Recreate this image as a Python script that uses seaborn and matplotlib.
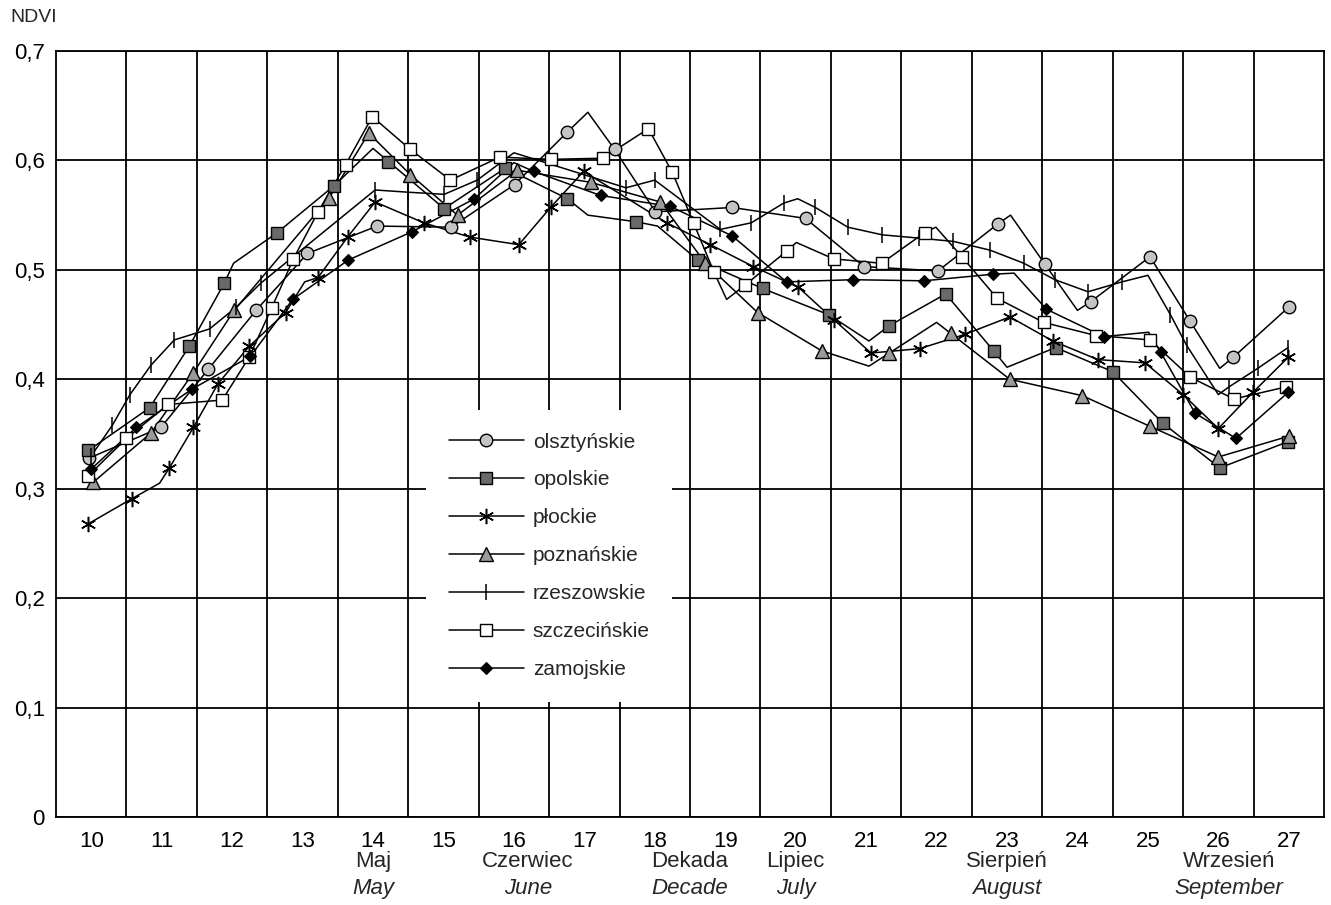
import numpy as np
import pandas as pd
import matplotlib
matplotlib.use("Agg")
import matplotlib.pyplot as plt
import seaborn as sns
from matplotlib.lines import Line2D

# decade number (10 = first decade of April ... 27 = last of September) and NDVI
# *_x / *_v : points drawn with a marker, *_bx / *_bv : extra bends of the line
olsz_x = [9.97, 10.99, 11.66, 12.34, 13.07, 14.06, 15.11, 16.01, 16.76, 17.43, 18.01,
          19.10, 20.14, 20.97, 22.02, 22.87, 23.54, 24.19, 25.03, 25.60, 26.21, 27.0]
olsz_v = [0.328, 0.356, 0.409, 0.463, 0.515, 0.540, 0.539, 0.578, 0.626, 0.610, 0.553,
          0.557, 0.547, 0.503, 0.499, 0.542, 0.505, 0.471, 0.512, 0.453, 0.420, 0.466]
olsz_bx = [17.05, 23.05, 24.0, 26.02]
olsz_bv = [0.644, 0.550, 0.463, 0.410]

opol_x = [9.96, 10.83, 11.39, 11.89, 12.64, 13.45, 14.22, 15.01, 15.88, 16.76, 17.73,
          18.61, 19.53, 20.47, 21.33, 22.13, 22.81, 23.69, 24.50, 25.21, 26.02, 26.99]
opol_v = [0.335, 0.374, 0.430, 0.488, 0.534, 0.577, 0.599, 0.556, 0.593, 0.565, 0.544,
          0.509, 0.483, 0.459, 0.449, 0.478, 0.426, 0.429, 0.407, 0.360, 0.319, 0.343]
opol_bx = [12.02, 14.0, 17.05, 18.04, 21.04, 23.0]
opol_bv = [0.506, 0.611, 0.550, 0.540, 0.435, 0.411]

plock_x = [9.96, 10.58, 11.11, 11.45, 11.80, 12.24, 12.76, 13.22, 13.64, 14.03, 14.72,
           15.37, 16.07, 16.52, 16.99, 18.17, 18.79, 19.40, 20.04, 20.55, 21.07, 21.76,
           22.40, 23.04, 23.65, 24.29, 24.96, 25.50, 26.0, 26.49, 26.99]
plock_v = [0.268, 0.291, 0.319, 0.356, 0.396, 0.430, 0.461, 0.493, 0.530, 0.562, 0.543,
           0.530, 0.523, 0.557, 0.590, 0.543, 0.523, 0.503, 0.484, 0.454, 0.424, 0.428,
           0.441, 0.457, 0.435, 0.418, 0.415, 0.386, 0.355, 0.388, 0.420]
plock_bx = [10.97, 13.03]
plock_bv = [0.305, 0.489]

pozn_x = [10.03, 10.85, 11.45, 12.03, 13.38, 13.94, 14.53, 15.20, 16.05, 17.09, 18.08,
          18.72, 19.46, 20.37, 21.33, 22.20, 23.04, 24.07, 25.03, 26.0, 27.0]
pozn_v = [0.306, 0.351, 0.406, 0.463, 0.566, 0.625, 0.587, 0.550, 0.591, 0.580, 0.562,
          0.506, 0.461, 0.426, 0.424, 0.442, 0.400, 0.385, 0.357, 0.329, 0.348]
pozn_bx = [21.04, 22.0]
pozn_bv = [0.412, 0.452]

rzesz_x = [10.0, 10.30, 10.55, 10.85, 11.18, 11.68, 12.06, 12.41, 14.03, 14.49, 15.01,
           15.48, 17.59, 18.0, 18.93, 19.37, 19.83, 20.28, 20.74, 21.23, 21.75, 22.24,
           22.76, 23.24, 23.68, 24.15, 24.63, 25.32, 25.55, 26.15, 26.56, 26.99]
rzesz_v = [0.330, 0.358, 0.386, 0.413, 0.436, 0.446, 0.466, 0.488, 0.573, 0.571, 0.569,
           0.582, 0.575, 0.582, 0.537, 0.543, 0.561, 0.557, 0.539, 0.532, 0.529, 0.526,
           0.518, 0.506, 0.491, 0.480, 0.489, 0.459, 0.431, 0.393, 0.410, 0.429]
rzesz_bx = [16.0, 20.03, 25.0, 26.0]
rzesz_bv = [0.607, 0.565, 0.495, 0.386]

szcz_x = [9.96, 10.50, 11.09, 11.86, 12.24, 12.56, 12.87, 13.22, 13.61, 13.99, 14.53,
          15.10, 15.80, 16.53, 17.26, 17.91, 18.25, 18.55, 18.84, 19.28, 19.87, 20.54,
          21.22, 21.83, 22.36, 22.86, 23.52, 24.26, 25.03, 25.60, 26.22, 26.96]
szcz_v = [0.312, 0.346, 0.377, 0.381, 0.420, 0.465, 0.510, 0.553, 0.596, 0.640, 0.610,
          0.582, 0.603, 0.601, 0.602, 0.629, 0.589, 0.543, 0.498, 0.486, 0.517, 0.510,
          0.506, 0.534, 0.512, 0.474, 0.452, 0.440, 0.436, 0.402, 0.382, 0.393]
szcz_bx = [19.02, 20.01, 21.99]
szcz_bv = [0.473, 0.525, 0.539]

zam_x = [10.0, 10.64, 11.43, 12.26, 12.86, 13.65, 14.56, 15.44, 16.28, 17.23, 18.22,
         19.10, 19.87, 20.81, 21.82, 22.80, 23.56, 24.37, 25.18, 25.67, 26.25, 26.99]
zam_v = [0.318, 0.356, 0.391, 0.421, 0.473, 0.509, 0.535, 0.565, 0.590, 0.568, 0.558,
         0.531, 0.489, 0.491, 0.490, 0.496, 0.464, 0.439, 0.425, 0.369, 0.346, 0.388]
zam_bx = [16.0, 23.1, 25.01]
zam_bv = [0.598, 0.497, 0.443]

decades = list(range(10, 28))
months_pl = ["Maj", "Czerwiec", "Dekada", "Lipiec", "Sierpień", "Wrzesień"]
months_en = ["May", "June", "Decade", "July", "August", "September"]
month_pos = [14, 16.2, 18.5, 20, 23, 26.15]

series = [
    ("olsztyńskie", olsz_x, olsz_v, olsz_bx, olsz_bv),
    ("opolskie", opol_x, opol_v, opol_bx, opol_bv),
    ("płockie", plock_x, plock_v, plock_bx, plock_bv),
    ("poznańskie", pozn_x, pozn_v, pozn_bx, pozn_bv),
    ("rzeszowskie", rzesz_x, rzesz_v, rzesz_bx, rzesz_bv),
    ("szczecińskie", szcz_x, szcz_v, szcz_bx, szcz_bv),
    ("zamojskie", zam_x, zam_v, zam_bx, zam_bv),
]

styles = {
    "olsztyńskie": dict(marker="o", markersize=9, markerfacecolor="#c4c4c4",
                        markeredgecolor="black", markeredgewidth=1.0),
    "opolskie": dict(marker="s", markersize=8.5, markerfacecolor="#6a6a6a",
                     markeredgecolor="black", markeredgewidth=1.0),
    "płockie": dict(marker=(6, 2, 0), markersize=11, markeredgecolor="black",
                    markeredgewidth=1.1),
    "poznańskie": dict(marker="^", markersize=10, markerfacecolor="#9a9a9a",
                       markeredgecolor="black", markeredgewidth=1.0),
    "rzeszowskie": dict(marker="|", markersize=11, markeredgecolor="black",
                        markeredgewidth=1.1),
    "szczecińskie": dict(marker="s", markersize=9, markerfacecolor="white",
                         markeredgecolor="black", markeredgewidth=1.0),
    "zamojskie": dict(marker="D", markersize=6, markerfacecolor="black",
                      markeredgecolor="black", markeredgewidth=0.8),
}

sns.set_style("white")
plt.rcParams["font.family"] = ["Liberation Sans", "DejaVu Sans"]

W, H = 1331, 905
fig = plt.figure(figsize=(W / 100, H / 100), dpi=100)
ax = fig.add_axes([56 / W, 1 - 817 / H, (1324 - 56) / W, (817 - 51) / H])

for name, xs, vs, bx, bv in series:
    line = pd.DataFrame({"x": xs + bx, "v": vs + bv}).sort_values("x")
    sns.lineplot(data=line, x="x", y="v", ax=ax, color="black", linewidth=1.1,
                 estimator=None, sort=True, zorder=3)
    ax.plot(xs, vs, linestyle="none", zorder=4, **styles[name])

ax.set_xlim(9.5, 27.5)
ax.set_ylim(0, 0.7)
ax.set_xticks(decades)
ax.set_xticklabels([str(d) for d in decades])
ax.set_xticks(np.arange(10.5, 27, 1), minor=True)
ax.set_yticks(np.arange(0, 0.71, 0.1))
ax.set_yticklabels(["0"] + [f"0,{i}" for i in range(1, 8)])
ax.tick_params(axis="both", which="both", length=0, labelsize=16, colors="black")
ax.tick_params(axis="x", pad=10)
ax.tick_params(axis="y", pad=8)
ax.grid(which="minor", axis="x", color="black", linewidth=1.3)
ax.grid(which="major", axis="y", color="black", linewidth=1.3)
ax.grid(which="major", axis="x", visible=False)
ax.set_axisbelow(True)
for sp in ax.spines.values():
    sp.set_color("black")
    sp.set_linewidth(1.3)
ax.set_xlabel("")
ax.set_ylabel("")

trans = ax.get_xaxis_transform()
for pos, pl, en in zip(month_pos, months_pl, months_en):
    ax.text(pos, -0.0587, pl, transform=trans, ha="center", va="center", fontsize=16)
    ax.text(pos, -0.0927, en, transform=trans, ha="center", va="center", fontsize=16,
            style="italic")

fig.text(10 / W, 1 - 18 / H, "NDVI", ha="left", va="center", fontsize=14)

handles = [Line2D([], [], color="black", linewidth=1.1, **styles[s[0]]) for s in series]
leg = ax.legend(handles, [s[0] for s in series], loc="upper left",
                bbox_to_anchor=(426 / W, 1 - 410 / H), bbox_transform=fig.transFigure,
                fontsize=15, frameon=True, fancybox=False, framealpha=1,
                facecolor="white", edgecolor="none", handlelength=3.6,
                handletextpad=0.45, labelspacing=0.91, borderpad=1.08, borderaxespad=0)
leg.set_zorder(5)

fig.savefig("out.png", dpi=100, facecolor="white")
